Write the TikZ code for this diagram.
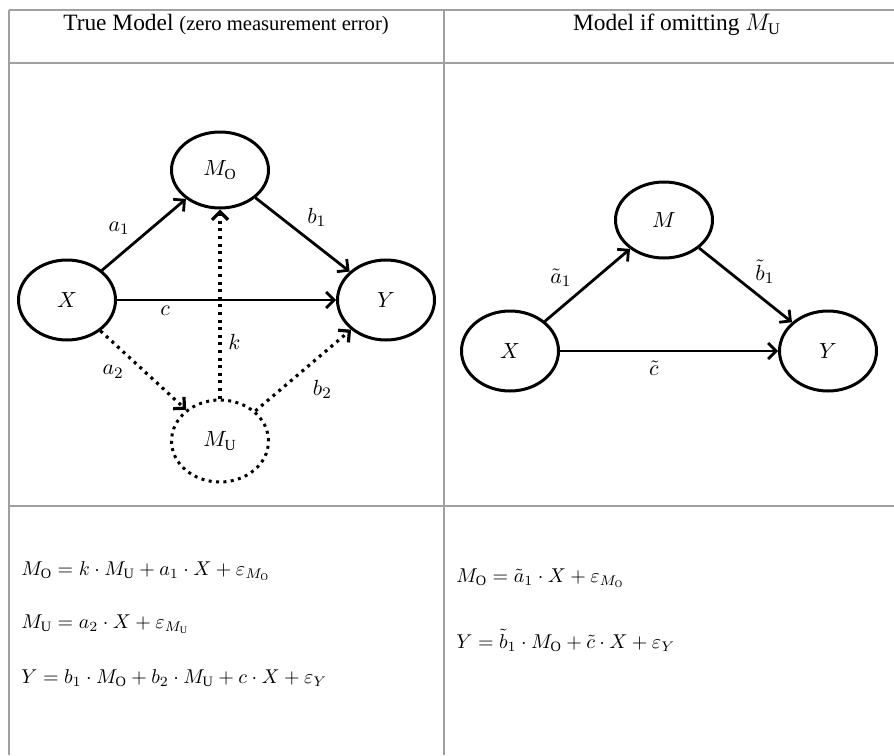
\documentclass[tikz,border=0pt]{standalone}
\usepackage{amsmath, amssymb}
\usepackage{fontspec}
\setmainfont{Liberation Serif}
\usepackage{xcolor}
\usepackage{tikz}
\usetikzlibrary{shapes, arrows.meta, positioning}
\definecolor{gridgray}{RGB}{160, 160, 160}

\begin{document}
\begin{tikzpicture}[x=0.5pt, y=-0.5pt, >={Straight Barb[length=4pt, width=8pt]},
    every node/.style={font=\fontsize{11}{13}\selectfont},
    var/.style={draw, ellipse, line width=1.5pt, minimum width=48.5pt, minimum height=40pt, inner sep=0pt},
    latent/.style={var, dash pattern=on 1.5pt off 2.2pt},
    arr/.style={->, line width=1.4pt},
    dotarr/.style={arr, line width=1.6pt, dash pattern=on 1.5pt off 2.3pt},
    grid/.style={gridgray, line width=1pt},
    head/.style={anchor=base, font=\fontsize{11.7}{14}\selectfont},
    eq/.style={anchor=base west, inner sep=0pt, font=\fontsize{10.2}{12}\selectfont}]
    \useasboundingbox (0,0) rectangle (894,755);

    % table lines
    \draw[grid] (9,10) -- (894,10);
    \draw[grid] (9,63) -- (894,63);
    \draw[grid] (9,506) -- (894,506);
    \draw[grid] (9,10) -- (9,755);
    \draw[grid] (444,10) -- (444,755);

    % headers
    \node[head] (hleft) at (226,31) {True Model {\fontsize{10.3}{12}\selectfont (zero measurement error)}};
    \node[head] (hright) at (677,31) {Model if omitting $M_{\mathrm{U}}$};

    % true model
    \node[var, minimum height=38pt] (mo) at (220,170) {$M_{\mathrm{O}}$};
    \node[var] (x) at (67,300) {$X$};
    \node[var] (y) at (386,300) {$Y$};
    \node[latent, minimum height=41pt] (mu) at (220,441) {$M_{\mathrm{U}}$};

    \draw[arr] (x) -- (mo) node[pos=.41, above left=-1pt] {$a_1$};
    \draw[arr] (mo) -- (y) node[pos=.48, above right=-1pt] {$b_1$};
    \draw[arr] (x) -- (y) node[pos=.22, below=-1pt] {$c$};
    \draw[dotarr] (mu) -- (mo) node[pos=.3, right] {$k$};
    \draw[dotarr] (x) -- (mu) node[pos=.35, below left=-1pt] {$a_2$};
    \draw[dotarr] (mu) -- (y) node[midway, below right=1pt] {$b_2$};

    % model without M_U
    \node[var, minimum height=38pt] (m) at (664,220) {$M$};
    \node[var] (x2) at (510,351) {$X$};
    \node[var] (y2) at (828,351) {$Y$};

    \draw[arr] (x2) -- (m) node[pos=.39, above left=-1pt] {$\tilde{a}_1$};
    \draw[arr] (m) -- (y2) node[pos=.55, above right=-2pt] {$\tilde{b}_1$};
    \draw[arr] (x2) -- (y2) node[pos=.43, below=1pt] {$\tilde{c}$};

    % equations
    \node[eq] (eqmo) at (21,575) {$M_{\mathrm{O}} = k \cdot M_{\mathrm{U}} + a_1 \cdot X + \varepsilon_{M_{\mathrm{O}}}$};
    \node[eq] (eqmu) at (21,628) {$M_{\mathrm{U}} = a_2 \cdot X + \varepsilon_{M_{\mathrm{U}}}$};
    \node[eq] (eqy) at (21,683) {$Y = b_1 \cdot M_{\mathrm{O}} + b_2 \cdot M_{\mathrm{U}} + c \cdot X + \varepsilon_Y$};
    \node[eq] (eqmo2) at (456,582) {$M_{\mathrm{O}} = \tilde{a}_1 \cdot X + \varepsilon_{M_{\mathrm{O}}}$};
    \node[eq] (eqy2) at (456,648) {$Y = \tilde{b}_1 \cdot M_{\mathrm{O}} + \tilde{c} \cdot X + \varepsilon_Y$};
\end{tikzpicture}
\end{document}
